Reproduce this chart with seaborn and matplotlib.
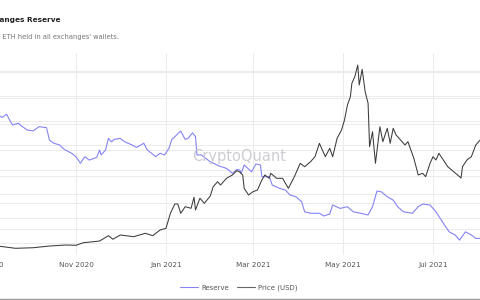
import matplotlib
matplotlib.use("Agg")
import matplotlib.pyplot as plt
import matplotlib.dates as mdates
from matplotlib.lines import Line2D
import numpy as np
import pandas as pd
import seaborn as sns

price_dates = ["2020-09-09","2020-09-21","2020-10-03","2020-10-14","2020-10-25","2020-11-01","2020-11-06",
    "2020-11-17","2020-11-23","2020-11-26","2020-12-01","2020-12-10","2020-12-18","2020-12-23","2020-12-28",
    "2021-01-01","2021-01-04","2021-01-07","2021-01-09","2021-01-11","2021-01-14","2021-01-18","2021-01-20",
    "2021-01-21","2021-01-24","2021-01-27","2021-01-31","2021-02-02","2021-02-05","2021-02-07","2021-02-11",
    "2021-02-15","2021-02-18","2021-02-20","2021-02-22","2021-02-23","2021-02-26","2021-03-01","2021-03-04",
    "2021-03-07","2021-03-09","2021-03-12","2021-03-13","2021-03-17","2021-03-21","2021-03-25","2021-03-29",
    "2021-04-02","2021-04-05","2021-04-09","2021-04-12","2021-04-15","2021-04-19","2021-04-22","2021-04-24",
    "2021-04-27","2021-04-30","2021-05-02","2021-05-04","2021-05-06","2021-05-07","2021-05-09","2021-05-11",
    "2021-05-12","2021-05-14","2021-05-16","2021-05-18","2021-05-19","2021-05-21","2021-05-23","2021-05-26",
    "2021-05-28","2021-05-31","2021-06-02","2021-06-04","2021-06-06","2021-06-09","2021-06-12","2021-06-14",
    "2021-06-18","2021-06-21","2021-06-24","2021-06-26","2021-06-29","2021-07-01","2021-07-03","2021-07-05",
    "2021-07-08","2021-07-11","2021-07-15","2021-07-19","2021-07-20","2021-07-21","2021-07-24","2021-07-27",
    "2021-07-30","2021-08-02"]
price_usd = [397,350,362,397,418,412,465,500,610,536,624,589,659,610,727,
    762,1071,1263,1263,1071,1207,1174,1401,1139,1380,1277,1427,1619,1722,1654,1792,
    1860,1948,1922,1860,1586,1448,1516,1551,1757,1860,1792,1895,1792,1792,1586,1825,
    2101,2031,2134,2237,2513,2237,2410,2237,2616,2787,2993,3302,3473,3749,3885,4126,
    3714,4037,3576,3337,2443,2752,2101,2855,2546,2822,2513,2822,2684,2581,2478,2546,
    2204,1860,1895,1825,2101,2237,2169,2307,2169,2031,1928,1825,1798,2031,2169,2237,
    2478,2581]

reserve_dates = ["2020-09-09","2020-09-12","2020-09-15","2020-09-17","2020-09-19","2020-09-23","2020-09-25",
    "2020-09-29","2020-10-03","2020-10-07","2020-10-12","2020-10-14","2020-10-17","2020-10-21","2020-10-24",
    "2020-10-29","2020-11-01","2020-11-04","2020-11-07","2020-11-10","2020-11-15","2020-11-17","2020-11-18",
    "2020-11-21","2020-11-23","2020-11-25","2020-11-27","2020-12-01","2020-12-04","2020-12-09","2020-12-12",
    "2020-12-17","2020-12-19","2020-12-25","2020-12-28","2020-12-31","2021-01-03","2021-01-05","2021-01-07",
    "2021-01-11","2021-01-14","2021-01-16","2021-01-19","2021-01-21","2021-01-22","2021-01-25","2021-01-31",
    "2021-02-06","2021-02-11","2021-02-15","2021-02-18","2021-02-20","2021-02-21","2021-02-23","2021-02-28",
    "2021-03-03","2021-03-06","2021-03-07","2021-03-12","2021-03-14","2021-03-19","2021-03-23","2021-03-26",
    "2021-03-30","2021-04-03","2021-04-05","2021-04-09","2021-04-15","2021-04-18","2021-04-22","2021-04-24",
    "2021-04-29","2021-05-04","2021-05-08","2021-05-13","2021-05-18","2021-05-21","2021-05-24","2021-05-27",
    "2021-05-31","2021-06-04","2021-06-07","2021-06-11","2021-06-17","2021-06-21","2021-06-24","2021-06-29",
    "2021-07-03","2021-07-08","2021-07-12","2021-07-16","2021-07-19","2021-07-23","2021-07-27","2021-07-30",
    "2021-08-02"]
reserve_meth = [22.24,22.14,22.27,22.03,21.83,21.90,21.79,
    21.62,21.59,21.76,21.72,21.21,21.08,21.01,20.83,
    20.67,20.53,20.26,20.53,20.39,20.50,20.80,20.60,
    20.80,21.28,21.14,21.24,21.28,21.14,21.01,20.91,
    21.08,20.83,20.53,20.67,20.60,20.87,21.24,21.35,
    21.58,21.24,21.28,21.51,21.35,20.60,20.60,20.32,
    20.15,20.05,19.85,20.01,19.98,19.85,20.19,19.91,
    20.23,20.19,19.71,19.71,19.37,19.23,19.16,18.96,
    18.89,18.68,18.27,18.21,18.21,18.10,18.18,18.55,
    18.41,18.48,18.27,18.21,18.14,18.48,19.12,19.09,
    18.89,18.75,18.48,18.27,18.21,18.48,18.59,18.55,
    18.27,17.80,17.45,17.32,17.11,17.45,17.32,17.18,
    17.18]

tick_months = ["2020-09-01","2020-11-01","2021-01-01","2021-03-01","2021-05-01","2021-07-01"]
tick_labels = ["Sep 2020","Nov 2020","Jan 2021","Mar 2021","May 2021","Jul 2021"]
legend_labels = ["Reserve", "Price (USD)"]

df_p = pd.DataFrame({"date": pd.to_datetime(price_dates), "price": price_usd})
df_r = pd.DataFrame({"date": pd.to_datetime(reserve_dates), "reserve": reserve_meth})

sns.set_style("white")
plt.rcParams['font.family'] = ['DejaVu Sans']

W, H = 480, 300
fig = plt.figure(figsize=(4.8, 3.0), dpi=100)
# axes extend past the figure on both sides (the chart is cropped)
L, R, T, B = -40, 520, 53, 255
ax = fig.add_axes([L / W, (H - B) / H, (R - L) / W, (B - T) / H])
ax2 = ax.twinx()

nov1 = mdates.date2num(pd.Timestamp("2020-11-01"))
ppd = 1.4752
xlim = (nov1 + (L - 76) / ppd, nov1 + (R - 76) / ppd)

blue = "#8484f4"
dark = "#3c3c3c"

r_lo, r_hi = 16.5, 24.78
p_lo, p_hi = 212, 4373
ax.set_ylim(r_lo, r_hi)
ax2.set_ylim(p_lo, p_hi)

# all gridlines on the bottom axes, below both lines
gridc = "#ebebeb"
ax.set_yticks(np.arange(17, 25, 1))
ax.grid(True, axis="both", color=gridc, linewidth=0.7)
ax.set_axisbelow(True)
price_grid = np.linspace(p_lo, 3997, 8)
for pg in price_grid:
    ax.axhline(r_lo + (pg - p_lo) / (p_hi - p_lo) * (r_hi - r_lo), color=gridc, linewidth=0.7, zorder=0.5)
ax2.grid(False)
ax2.set_yticks([])

sns.lineplot(data=df_r, x="date", y="reserve", ax=ax, color=blue, linewidth=0.8, legend=False)
sns.lineplot(data=df_p, x="date", y="price", ax=ax2, color=dark, linewidth=0.75, legend=False)
ax.set_xlim(*xlim)

ax.set_xticks(mdates.date2num(pd.to_datetime(tick_months)))
ax.set_xticklabels(tick_labels, fontsize=5.2, color="#555555")
ax.tick_params(axis="x", length=0, pad=5)
ax.tick_params(axis="y", left=False, labelleft=False)
ax2.tick_params(axis="y", right=False, labelright=False)
ax.set_xlabel("")
ax.set_ylabel("")
ax2.set_ylabel("")
for a in (ax, ax2):
    for s in a.spines.values():
        s.set_visible(False)

# watermark
fig.text(239 / W, (H - 156) / H, "CryptoQuant", fontsize=10.5, color="#c4c4ce", alpha=0.85,
         ha="center", va="center", zorder=0)

# title and subtitle (cropped at the left edge, as in the reference)
fig.text(60 / W, (H - 20) / H, "Exchanges Reserve", fontsize=5.3, fontweight="bold",
         color="#222222", ha="right", va="center")
fig.text(119 / W, (H - 37) / H, "The total amount of ETH held in all exchanges' wallets.",
         fontsize=4.9, color="#777777", ha="right", va="center")

handles = [Line2D([0], [0], color=blue, lw=0.8), Line2D([0], [0], color="#666666", lw=0.8)]
fig.legend(handles, legend_labels, loc="center", bbox_to_anchor=(239 / W, (H - 288) / H),
           ncol=2, frameon=False, fontsize=5, handlelength=2.5, columnspacing=1.2,
           handletextpad=0.5, labelcolor="#555555")

fig.add_artist(Line2D([0, 1], [1.0 / H, 1.0 / H], color="#9a9a9a", lw=1.0,
                      transform=fig.transFigure))

fig.savefig("out.png", dpi=100)
